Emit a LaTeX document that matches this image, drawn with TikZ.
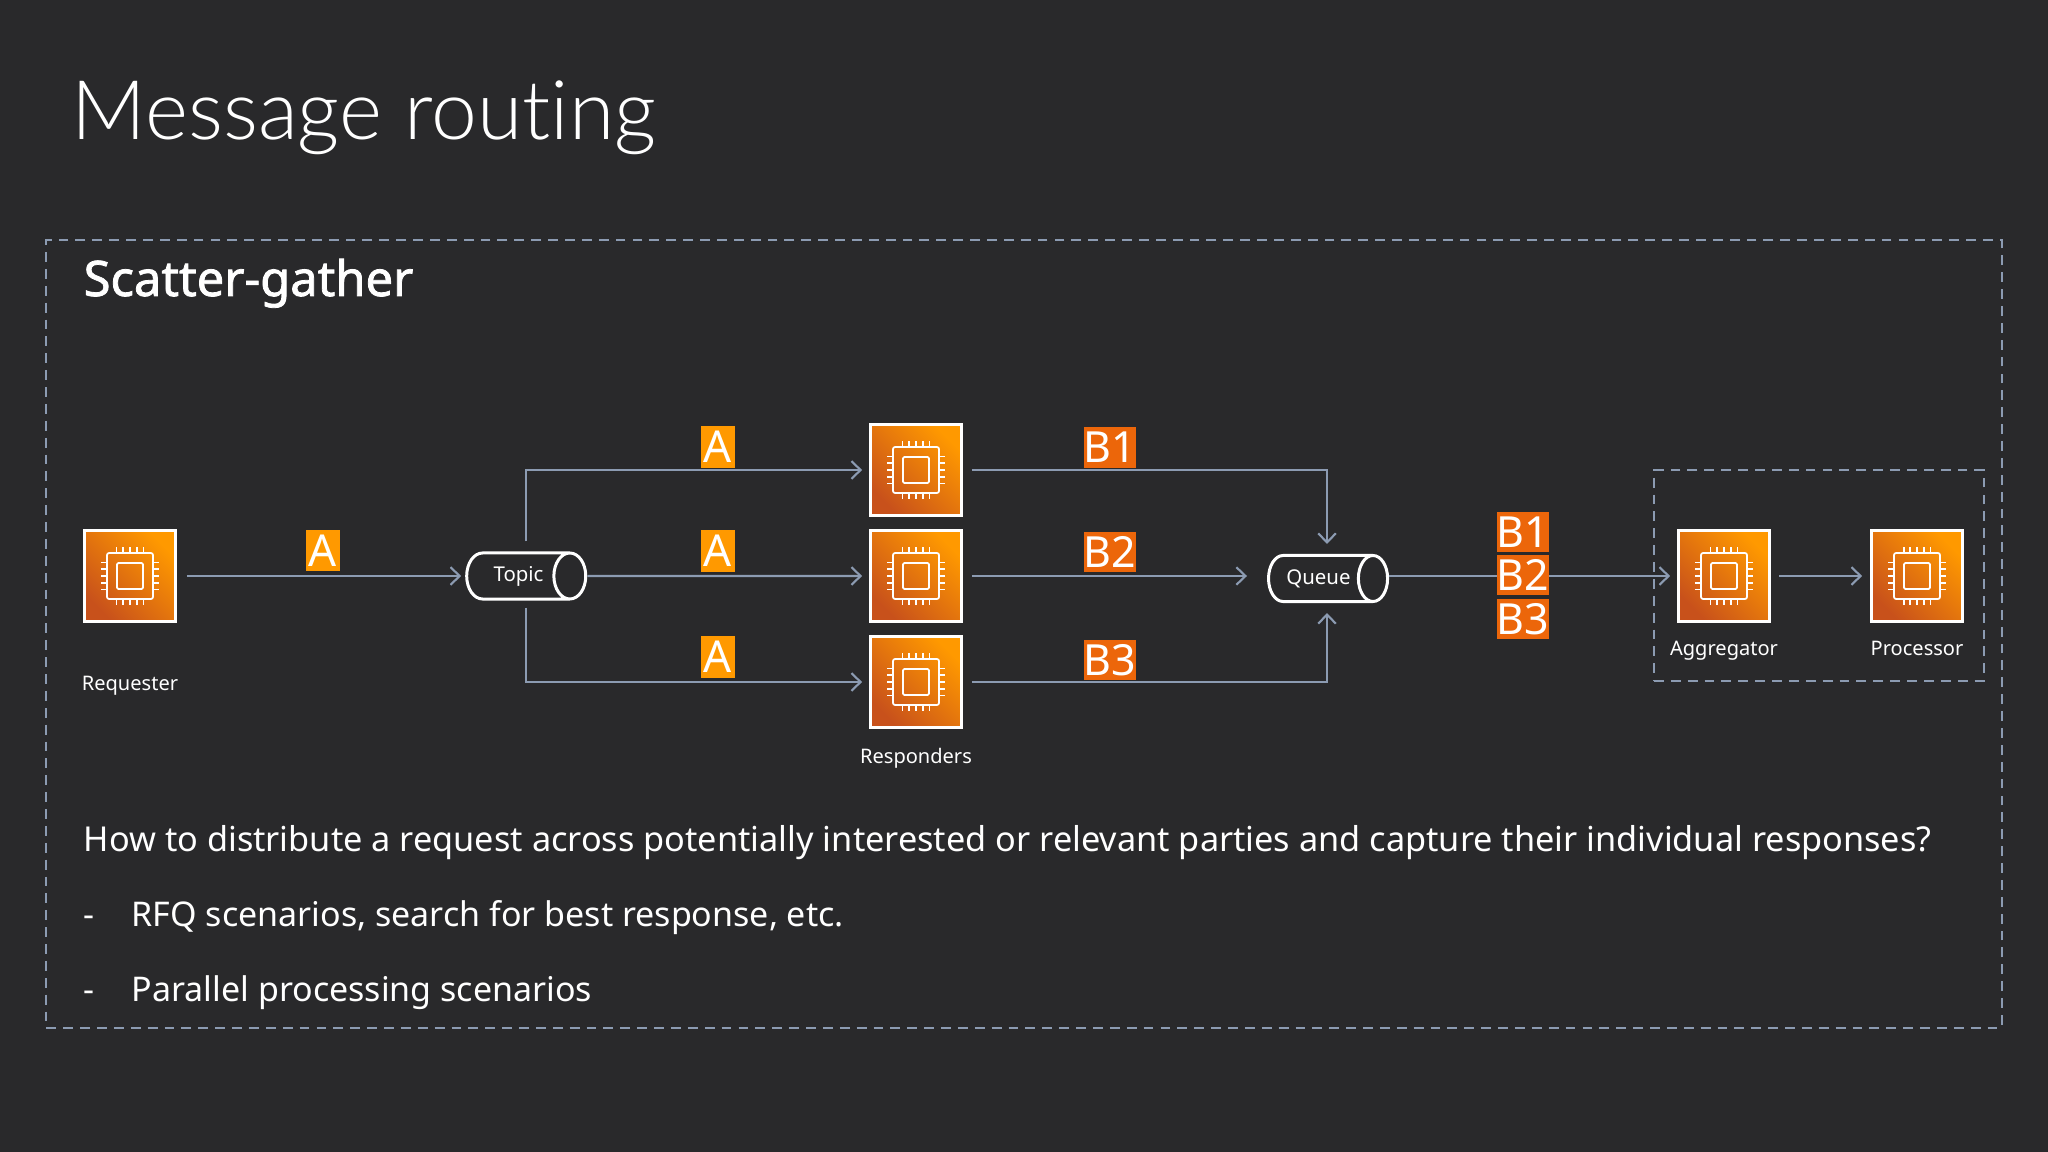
\documentclass[tikz,border=0pt]{standalone}
\usepackage{fontspec}
\setmainfont{Noto Sans}
\newfontfamily\lightfont[Ligatures=NoCommon]{Lato Light}
\newfontfamily\headfont[FakeBold=1.6]{Noto Sans}
\usetikzlibrary{shapes.geometric,arrows.meta}
\definecolor{slide}{RGB}{41,41,43}
\definecolor{wire}{RGB}{140,155,178}
\definecolor{amber}{RGB}{255,153,0}
\definecolor{burnt}{RGB}{236,102,10}
\definecolor{chiplow}{RGB}{200,81,27}
\definecolor{chiphigh}{RGB}{255,153,0}
\newcommand{\chipicon}{%
  \begin{scope}[shift={(path picture bounding box.center)},draw=white,line width=0.5pt]
    \draw[rounded corners=0.6pt] (-23,-23) rectangle (23,23);
    \draw[rounded corners=0.4pt] (-13,-13) rectangle (13,13);
    \foreach \p in {-13.4,-6.7,0,6.7,13.4} {
      \draw (\p,-23) -- (\p,-29);
      \draw (\p,23) -- (\p,29);
      \draw (-23,\p) -- (-29,\p);
      \draw (23,\p) -- (29,\p);
    }
  \end{scope}}
\begin{document}
\begin{tikzpicture}[x=0.01cm,y=-0.01cm]
\tikzstyle{chip} = [rectangle, draw=white, line width=0.9pt, minimum width=0.905cm, minimum height=0.905cm, inner sep=0pt, left color=chiplow, right color=chiphigh, shading angle=135, path picture={\chipicon}]
\tikzstyle{pipe} = [cylinder, draw=white, line width=0.85pt, minimum width=0.46cm, minimum height=1.19cm, shape aspect=1.6, inner sep=0pt, text=white, font=\fontsize{5.8pt}{7pt}\selectfont]
\tikzstyle{wireline} = [draw=wire, line width=0.6pt]
\tikzstyle{flow} = [wireline, -{Straight Barb[length=2.6pt,width=5pt,line width=0.6pt]}]
\tikzstyle{frame} = [draw=wire, line width=0.55pt, dash pattern=on 2.8pt off 2pt]
\tikzstyle{caption} = [anchor=base, text=white, font=\fontsize{5.7pt}{7pt}\selectfont]
\tikzstyle{tagA} = [fill=amber, text=white, minimum width=0.34cm, minimum height=0.41cm, inner sep=0pt, font=\fontsize{12.5pt}{14pt}\selectfont]
\tikzstyle{tagB} = [fill=burnt, text=white, minimum width=0.52cm, minimum height=0.40cm, inner sep=0pt, font=\fontsize{12.2pt}{14pt}\selectfont]
\tikzstyle{body} = [anchor=base west, inner sep=0pt, text=white, font=\fontsize{9.67pt}{12pt}\selectfont]

\fill[slide] (0,0) rectangle (2048,1152);
\useasboundingbox (0,0) rectangle (2048,1152);

\node[anchor=base west, inner sep=0pt, text=white, font=\fontsize{23.4pt}{30pt}\lightfont] (title) at (71,140) {Message routing};
\node[anchor=base west, inner sep=0pt, text=white, font=\fontsize{13.9pt}{16pt}\headfont] (heading) at (83,296) {Scatter-gather};

\node[frame, rectangle, inner sep=0pt, minimum width=19.54cm, minimum height=7.87cm] (outer) at (1024,634) {};
\node[frame, rectangle, inner sep=0pt, minimum width=3.30cm, minimum height=2.10cm] (inner) at (1819,575.5) {};

\node[chip] (requester) at (130,576) {};
\node[chip] (resp1) at (916,470) {};
\node[chip] (resp2) at (916,576) {};
\node[chip] (resp3) at (916,682) {};
\node[chip] (aggregator) at (1724,576) {};
\node[chip] (processor) at (1917,576) {};

\node[pipe] (topic) at (517.5,576) {\hspace*{0.02cm}\raisebox{-0.6pt}{Topic}};
\node[pipe] (queue) at (1320,578.5) {\hspace*{-0.03cm}\raisebox{0.2pt}{Queue}};

\draw[flow, shorten <=0.1cm, shorten >=0.04cm] (requester) -- (requester -| topic.west);
\draw[flow, shorten >=0.07cm] (topic.east) -- (resp2);
\draw[flow, shorten <=0.1cm, shorten >=0.07cm] ([xshift=0.085cm]topic.north) |- (resp1);
\draw[flow, shorten <=0.07cm, shorten >=0.07cm] ([xshift=0.085cm]topic.south) |- (resp3);
\draw[flow, shorten <=0.09cm, shorten >=0.1cm] (resp1) -| ([xshift=0.07cm]queue.north);
\draw[flow, shorten <=0.09cm, shorten >=0.2cm] (resp2) -- (resp2 -| queue.west);
\draw[flow, shorten <=0.09cm, shorten >=0.1cm] (resp3) -| ([xshift=0.07cm]queue.south);
\draw[flow, shorten >=0.07cm] (aggregator -| queue.east) -- (aggregator);
\draw[flow, shorten <=0.08cm, shorten >=0.08cm] (aggregator) -- (processor);

\node[tagA] (a0) at (323,550.5) {A};
\node[tagA] (a1) at (718,447) {A};
\node[tagA] (a2) at (718,551) {A};
\node[tagA] (a3) at (718,657) {A};
\node[tagB] (b1) at (1110,447.5) {B1};
\node[tagB] (b2) at (1110,552) {B2};
\node[tagB] (b3) at (1110,660) {B3};
\node[tagB] (s1) at (1523,532) {B1};
\node[tagB] (s2) at (1523,575) {B2};
\node[tagB] (s3) at (1523,619) {B3};

\node[caption] (requesterlabel) at (130,690) {Requester};
\node[caption] (responderslabel) at (916,763) {Responders};
\node[caption] (aggregatorlabel) at (1724,656) {Aggregator};
\node[caption] (processorlabel) at (1917,656) {Processor};

\node[body, font=\fontsize{9.75pt}{12pt}\selectfont] (question) at (83,851) {How to distribute a request across potentially interested or relevant parties and capture their individual responses?};
\node[body] (dash1) at (83,926) {-};
\node[body] (item1) at (131,926) {RFQ scenarios, search for best response, etc.};
\node[body] (dash2) at (83,1001) {-};
\node[body] (item2) at (131,1001) {Parallel processing scenarios};
\end{tikzpicture}
\end{document}
